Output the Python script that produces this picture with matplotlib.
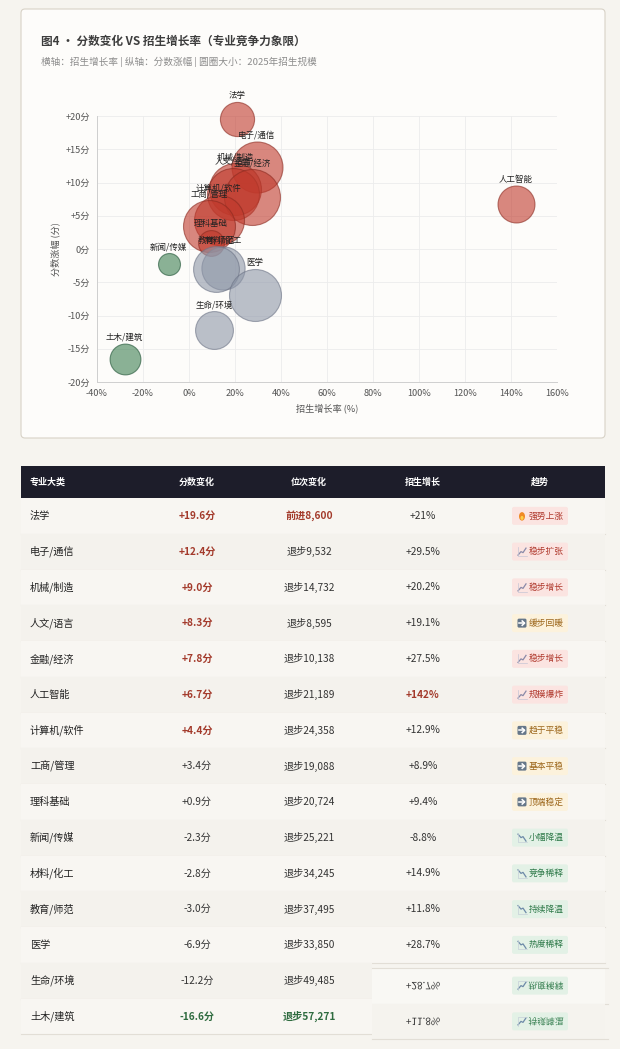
import numpy as np
import matplotlib
matplotlib.use("Agg")
import matplotlib.pyplot as plt
from matplotlib.patches import FancyBboxPatch, Rectangle, PathPatch, Ellipse
from matplotlib.textpath import TextPath
from matplotlib.font_manager import FontProperties
from matplotlib.transforms import Affine2D

plt.rcParams['font.family'] = ['Noto Sans CJK SC', 'DejaVu Sans']

# ---- data ----
majors = ["法学", "电子/通信", "机械/制造", "人文/语言", "金融/经济", "人工智能", "计算机/软件",
          "工商/管理", "理科基础", "新闻/传媒", "材料/化工", "教育/师范", "医学", "生命/环境", "土木/建筑"]
score_change = [19.6, 12.4, 9.0, 8.3, 7.8, 6.7, 4.4, 3.4, 0.9, -2.3, -2.8, -3.0, -6.9, -12.2, -16.6]
rank_change = [8600, -9532, -14732, -8595, -10138, -21189, -24358, -19088, -20724,
               -25221, -34245, -37495, -33850, -49485, -57271]
enroll_growth = [21.0, 29.5, 20.2, 19.1, 27.5, 142.0, 12.9, 8.9, 9.4, -8.8, 14.9, 11.8, 28.7, 11.0, -28.0]
enroll_2025 = [3500, 7800, 8100, 8100, 9400, 4100, 7500, 8100, 2000, 1450, 5600, 6300, 8100, 4300, 2850]
trend_text = ["强势上涨", "稳步扩张", "稳步增长", "缓步回暖", "稳步增长", "规模爆炸", "趋于平稳",
              "基本平稳", "顶端稳定", "小幅降温", "竞争稀释", "持续降温", "热度稀释", "", ""]
trend_kind = ["fire", "up", "up", "flat", "up", "up", "flat",
              "flat", "flat", "down", "down", "down", "down", "", ""]
# last two rows show an upside-down copy of the rows above in the right-hand columns
mirror_src = [None] * 13 + [12, 11]

x_ticks = [-40, -20, 0, 20, 40, 60, 80, 100, 120, 140, 160]
y_ticks = [-20, -15, -10, -5, 0, 5, 10, 15, 20]

PAGE = "#f6f4ef"
RED, GRAY, GREEN = "#c0392b", "#8e97a8", "#3d7f52"
W, H = 620, 1049

fig = plt.figure(figsize=(W / 100, H / 100), dpi=100, facecolor=PAGE)
bg = fig.add_axes([0, 0, 1, 1], zorder=0)
bg.set_xlim(0, W)
bg.set_ylim(H, 0)
bg.axis("off")

# chart card
bg.add_patch(FancyBboxPatch((21, 9), 584, 429, boxstyle="round,pad=0,rounding_size=4",
                            fc="#fdfcfa", ec="#d8d2c7", lw=0.8))
bg.text(41, 41, "图4 · 分数变化 VS 招生增长率（专业竞争力象限）", fontsize=8.4,
        fontweight="bold", color="#3d3d3d", va="center")
bg.text(41, 62, "横轴：招生增长率 | 纵轴：分数涨幅 | 圆圈大小：2025年招生规模", fontsize=6.9,
        color="#8c8c8c", va="center")

# ---- bubble chart ----
ax = fig.add_axes([97 / W, 1 - 382 / H, 460 / W, 266 / H], zorder=1)
ax.set_facecolor("none")
ax.set_xlim(-40, 160)
ax.set_ylim(-20, 20)
ax.set_xticks(x_ticks)
ax.set_yticks(y_ticks)
ax.set_xticklabels([f"{v}%" for v in x_ticks])
ax.set_yticklabels([f"{v:+d}分" if v != 0 else "0分" for v in y_ticks])
ax.tick_params(length=0, labelsize=6.6, labelcolor="#555555", pad=5)
ax.grid(True, color="#ececec", lw=0.6)
ax.set_axisbelow(True)
for s in ["top", "right"]:
    ax.spines[s].set_visible(False)
for s in ["left", "bottom"]:
    ax.spines[s].set_color("#cfcfcf")
    ax.spines[s].set_linewidth(0.7)
ax.set_xlabel("招生增长率 (%)", fontsize=6.6, color="#555555", labelpad=4)
ax.set_ylabel("分数涨幅 (分)", fontsize=6.6, color="#555555", labelpad=4)

for i, name in enumerate(majors):
    gx, sc = enroll_growth[i], score_change[i]
    if gx < 0:
        col, ec = GREEN, "#1f5234"
    elif sc < 0:
        col, ec = GRAY, "#6c7385"
    else:
        col, ec = RED, "#8a2a20"
    r_px = np.sqrt(enroll_2025[i] / 12.0)
    size = (2 * r_px * 0.72) ** 2
    ax.scatter([gx], [sc], s=size, color=col, alpha=0.6, edgecolors=ec, linewidths=0.8,
               zorder=2 + 2 * i, clip_on=False)
    ax.annotate(name, (gx, sc), xytext=(0, (r_px + 2) * 0.72), textcoords="offset points",
                ha="center", va="bottom", fontsize=6.1, color="#222222", zorder=3 + 2 * i)

# ---- table ----
TX0, TX1 = 21, 605
HEAD_TOP, HEAD_H, ROW_H = 466, 32, 35.75
COL_X = [30, 197, 309, 423, 540]
headers = ["专业大类", "分数变化", "位次变化", "招生增长", "趋势"]

bg.add_patch(Rectangle((TX0, HEAD_TOP), TX1 - TX0, HEAD_H, fc="#1d1d2a", ec="none"))
for j, h in enumerate(headers):
    bg.text(COL_X[j], HEAD_TOP + HEAD_H / 2, h, fontsize=6.5, fontweight="bold", color="white",
            va="center", ha="left" if j == 0 else "center")

BADGE = {"fire": ("#fbe4e1", "#b0392d"), "up": ("#fbe4e1", "#b0392d"),
         "flat": ("#fcf2dc", "#9c661a"), "down": ("#e3f1e6", "#2f7a4a")}
fp_txt = FontProperties(family=["Noto Sans CJK SC", "DejaVu Sans"])


def flipped_text(x, y, s, size_px, color):
    tp = TextPath((0, 0), s, size=size_px, prop=fp_txt)
    bb = tp.get_extents()
    tr = Affine2D().translate(-(bb.x0 + bb.x1) / 2, -(bb.y0 + bb.y1) / 2).translate(x, y)
    bg.add_patch(PathPatch(tr.transform_path(tp), fc=color, ec="none", lw=0, zorder=3))


def icon(kind, x, y, flip=False):
    f = -1 if flip else 1
    if kind == "fire":
        bg.add_patch(Ellipse((x, y + 0.5), 6, 8.5, fc="#f08a24", ec="none", zorder=3))
        bg.add_patch(Ellipse((x, y + 2), 3, 4, fc="#fcd04a", ec="none", zorder=3))
    elif kind == "up":
        bg.plot([x - 4, x - 1, x + 1, x + 4], [y + 3.5 * f, y, y + 1 * f, y - 3.5 * f],
                color="#8a8aa8", lw=0.9, zorder=3)
        bg.plot([x - 4.5, x - 4.5, x + 4.5], [y - 4.5 * f, y + 4.5 * f, y + 4.5 * f],
                color="#c5c5d5", lw=0.5, zorder=3)
    elif kind == "down":
        bg.plot([x - 4, x - 1, x + 1, x + 4], [y - 3.5 * f, y, y - 1 * f, y + 3.5 * f],
                color="#6d8aa8", lw=0.9, zorder=3)
        bg.plot([x - 4.5, x - 4.5, x + 4.5], [y - 4.5 * f, y + 4.5 * f, y + 4.5 * f],
                color="#c5cfd8", lw=0.5, zorder=3)
    elif kind == "flat":
        bg.add_patch(FancyBboxPatch((x - 4.5, y - 4.5), 9, 9, boxstyle="round,pad=0,rounding_size=1.5",
                                    fc="#667789", ec="none", zorder=3))
        bg.plot([x - 2.8, x + 2.2], [y, y], color="white", lw=1.1, zorder=4)
        bg.plot([x + 0.2, x + 2.6, x + 0.2], [y - 2.2, y, y + 2.2], color="white", lw=1.1, zorder=4)


def badge(kind, label, cx, cy, flip=False):
    fc, tc = BADGE[kind]
    bg.add_patch(FancyBboxPatch((cx - 28, cy - 9), 56, 18, boxstyle="round,pad=0,rounding_size=2",
                                fc=fc, ec="none", zorder=2))
    icon(kind, cx - 18, cy, flip)
    if flip:
        flipped_text(cx + 6, cy, label, 8.8, tc)
    else:
        bg.text(cx + 6, cy, label, fontsize=6.3, color=tc, ha="center", va="center", zorder=3)


for i, name in enumerate(majors):
    top = HEAD_TOP + HEAD_H + i * ROW_H
    cy = top + ROW_H / 2
    row_fc = "#f8f6f2" if i % 2 == 0 else "#f4f2ed"
    src = mirror_src[i]
    right_x = 372 if src is not None else TX1
    bg.add_patch(Rectangle((TX0, top), right_x - TX0, ROW_H, fc=row_fc, ec="none", zorder=1))
    bg.plot([TX0, right_x], [top + ROW_H, top + ROW_H], color="#e2ded6", lw=0.8, zorder=1)

    bg.text(COL_X[0], cy, name, fontsize=7.3, fontweight="medium", color="#222222", va="center")

    sc = score_change[i]
    if sc >= 4:
        c, w = "#a33a2b", "bold"
    elif sc <= -15:
        c, w = "#2e6b3f", "bold"
    else:
        c, w = "#333333", "normal"
    bg.text(COL_X[1], cy, f"{sc:+.1f}分", fontsize=7.3, color=c, fontweight=w, ha="center", va="center")

    rk = rank_change[i]
    if rk > 0:
        rt, c, w = f"前进{rk:,}", "#a33a2b", "bold"
    elif rk < -50000:
        rt, c, w = f"退步{-rk:,}", "#2e6b3f", "bold"
    else:
        rt, c, w = f"退步{-rk:,}", "#333333", "normal"
    bg.text(COL_X[2], cy, rt, fontsize=7.3, color=c, fontweight=w, ha="center", va="center")

    if src is None:
        g = enroll_growth[i]
        gt = f"{g:+.0f}%" if g == int(g) else f"{g:+.1f}%"
        c, w = ("#a33a2b", "bold") if g > 100 else ("#333333", "normal")
        bg.text(COL_X[3], cy, gt, fontsize=7.3, color=c, fontweight=w, ha="center", va="center")
        badge(trend_kind[i], trend_text[i], COL_X[4], cy)
    else:
        # glitched block: right columns shifted down and mirrored vertically
        ftop = top + 5
        fcy = ftop + ROW_H / 2
        bg.add_patch(Rectangle((372, ftop), TX1 - 372, ROW_H,
                               fc="#f9f8f4" if i % 2 else "#f5f3ee", ec="none", zorder=1))
        if i == 13:
            bg.plot([372, TX1 + 3], [ftop, ftop], color="#e2ded6", lw=0.8, zorder=1)
        bg.plot([372, TX1 + 3], [ftop + ROW_H, ftop + ROW_H], color="#e2ded6", lw=0.8, zorder=1)
        g = enroll_growth[src]
        flipped_text(COL_X[3], fcy, f"{g:+.1f}%", 10.0, "#333333")
        badge(trend_kind[src], trend_text[src], COL_X[4], fcy, flip=True)

fig.savefig("out.png", dpi=100, facecolor=PAGE)
